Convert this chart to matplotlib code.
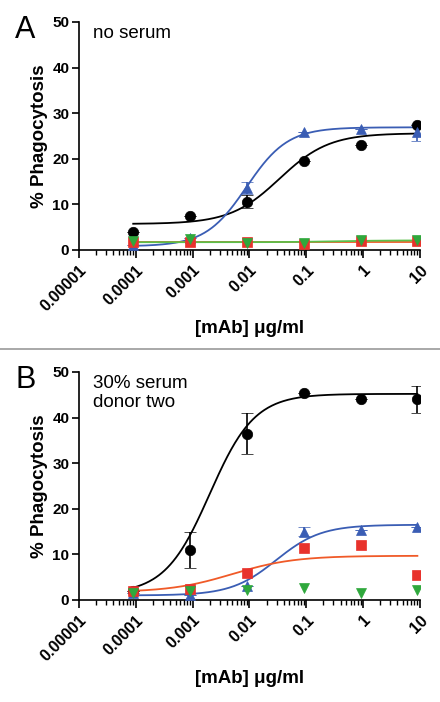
import numpy as np
import matplotlib.pyplot as plt
from matplotlib.ticker import FixedLocator, NullFormatter

plt.rcParams['font.family'] = ['Liberation Sans', 'DejaVu Sans']

# concentrations (ug/ml)
conc = [0.00009, 0.0009, 0.009, 0.09, 0.9, 9]
xticks = [0.00001, 0.0001, 0.001, 0.01, 0.1, 1, 10]
xtick_labels = ['0.00001', '0.0001', '0.001', '0.01', '0.1', '1', '10']

# panel A: no serum
a_black = [4.0, 7.5, 10.6, 19.6, 23.0, 27.5]
a_black_err = [0, 0, 1.4, 0, 0, 0]
a_blue = [1.1, 2.6, 13.5, 25.8, 26.6, 25.8]
a_blue_err = [0, 0, 1.3, 0, 0, 1.8]
a_red = [1.8, 1.8, 1.8, 1.3, 1.9, 1.9]
a_green = [1.9, 2.3, 1.5, 1.5, 2.1, 2.1]

# panel B: 30% serum donor two
b_black = [2.0, 11.0, 36.5, 45.5, 44.0, 44.0]
b_black_err = [0, 4.0, 4.5, 0, 0, 3.0]
b_blue = [1.5, 1.0, 3.0, 15.0, 15.4, 16.0]
b_blue_err = [0, 0, 0, 1.0, 0, 0]
b_red = [2.0, 2.5, 6.0, 11.5, 12.0, 5.4]
b_green = [1.6, 2.0, 2.3, 2.7, 1.5, 2.2]

# fitted curve parameters (bottom, top, logEC50, hill)
a_fits = {'black': (5.7, 25.6, -1.47, 1.0), 'blue': (0.8, 26.9, -2.05, 1.2),
          'red': (1.8, 1.8, -2.0, 1.0), 'green': (1.7, 2.1, -0.5, 1.0)}
b_fits = {'black': (1.3, 45.2, -2.7, 1.1), 'blue': (1.0, 16.5, -1.53, 1.1),
          'red': (1.7, 9.7, -2.3, 0.8)}

colors = {'black': 'black', 'blue': '#3a5db4', 'red': '#e8322c', 'green': '#2fa83c'}
curve_colors = {'black': 'black', 'blue': '#3a5db4', 'red': '#f05a28', 'green': '#5bbf4a'}
markers = {'black': 'o', 'blue': '^', 'red': 's', 'green': 'v'}
msizes = {'black': 7.5, 'blue': 7.5, 'red': 6.5, 'green': 7.5}


def four_pl(x, bottom, top, logec, hill):
    return bottom + (top - bottom) / (1 + 10 ** ((logec - np.log10(x)) * hill))


def draw_panel(fig, ax, series, fits, letter, note):
    xs = np.logspace(np.log10(conc[0]), np.log10(conc[-1]), 300)
    for name, (bottom, top, logec, hill) in fits.items():
        ax.plot(xs, four_pl(xs, bottom, top, logec, hill), color=curve_colors[name], lw=1.3, zorder=2)
    for name, vals, errs in series:
        ax.errorbar(conc, vals, yerr=errs, fmt=markers[name], color=colors[name], ms=msizes[name],
                    mec=colors[name], mew=0.5, capsize=4, elinewidth=1.2, capthick=1.2, zorder=3)
    ax.set_xscale('log')
    ax.set_xlim(1e-5, 10)
    ax.set_ylim(0, 50)
    ax.spines['top'].set_visible(False)
    ax.spines['right'].set_visible(False)
    ax.spines['left'].set_linewidth(1.2)
    ax.spines['bottom'].set_linewidth(1.2)
    ax.xaxis.set_major_locator(FixedLocator(xticks))
    minors = [m * d for d in xticks[:-1] for m in range(2, 10)]
    ax.xaxis.set_minor_locator(FixedLocator(minors))
    ax.xaxis.set_minor_formatter(NullFormatter())
    ax.set_xticklabels(xtick_labels, rotation=45, ha='right', va='top', rotation_mode='anchor',
                       fontsize=11.5, fontweight='bold')
    ax.set_yticks([0, 10, 20, 30, 40, 50])
    ax.set_yticklabels(['0', '10', '20', '30', '40', '50'], fontsize=11, fontweight='bold')
    ax.tick_params(axis='x', which='major', length=6, width=1.2, pad=3)
    ax.tick_params(axis='x', which='minor', length=3.5, width=1.0)
    ax.tick_params(axis='y', which='major', length=5, width=1.2, pad=2)
    ax.set_ylabel('% Phagocytosis', fontsize=13.5, fontweight='bold', labelpad=3)
    ax.set_xlabel('[mAb] \u03bcg/ml', fontsize=13.5, fontweight='bold', labelpad=4)
    top_px = (1 - ax.get_position().y1) * 702
    fig.text(15 / 440, 1 - (top_px - 7) / 702, letter, fontsize=22, ha='left', va='top')
    ax.text(0.04, 0.985, note, transform=ax.transAxes, fontsize=13.5, ha='left', va='top',
            linespacing=1.15)


fig = plt.figure(figsize=(4.4, 7.02), dpi=100)
ax_a = fig.add_axes([0.1795, 0.6439, 0.775, 0.3248])
ax_b = fig.add_axes([0.1795, 0.1453, 0.775, 0.3248])

draw_panel(fig, ax_a, [('black', a_black, a_black_err), ('blue', a_blue, a_blue_err),
                       ('red', a_red, None), ('green', a_green, None)],
           a_fits, 'A', 'no serum')
draw_panel(fig, ax_b, [('black', b_black, b_black_err), ('blue', b_blue, b_blue_err),
                       ('red', b_red, None), ('green', b_green, None)],
           b_fits, 'B', '30% serum\ndonor two')

fig.add_artist(plt.Line2D([0, 1], [1 - 349 / 702, 1 - 349 / 702], color='#999999', lw=1.2))

fig.savefig('out.png', dpi=100)
